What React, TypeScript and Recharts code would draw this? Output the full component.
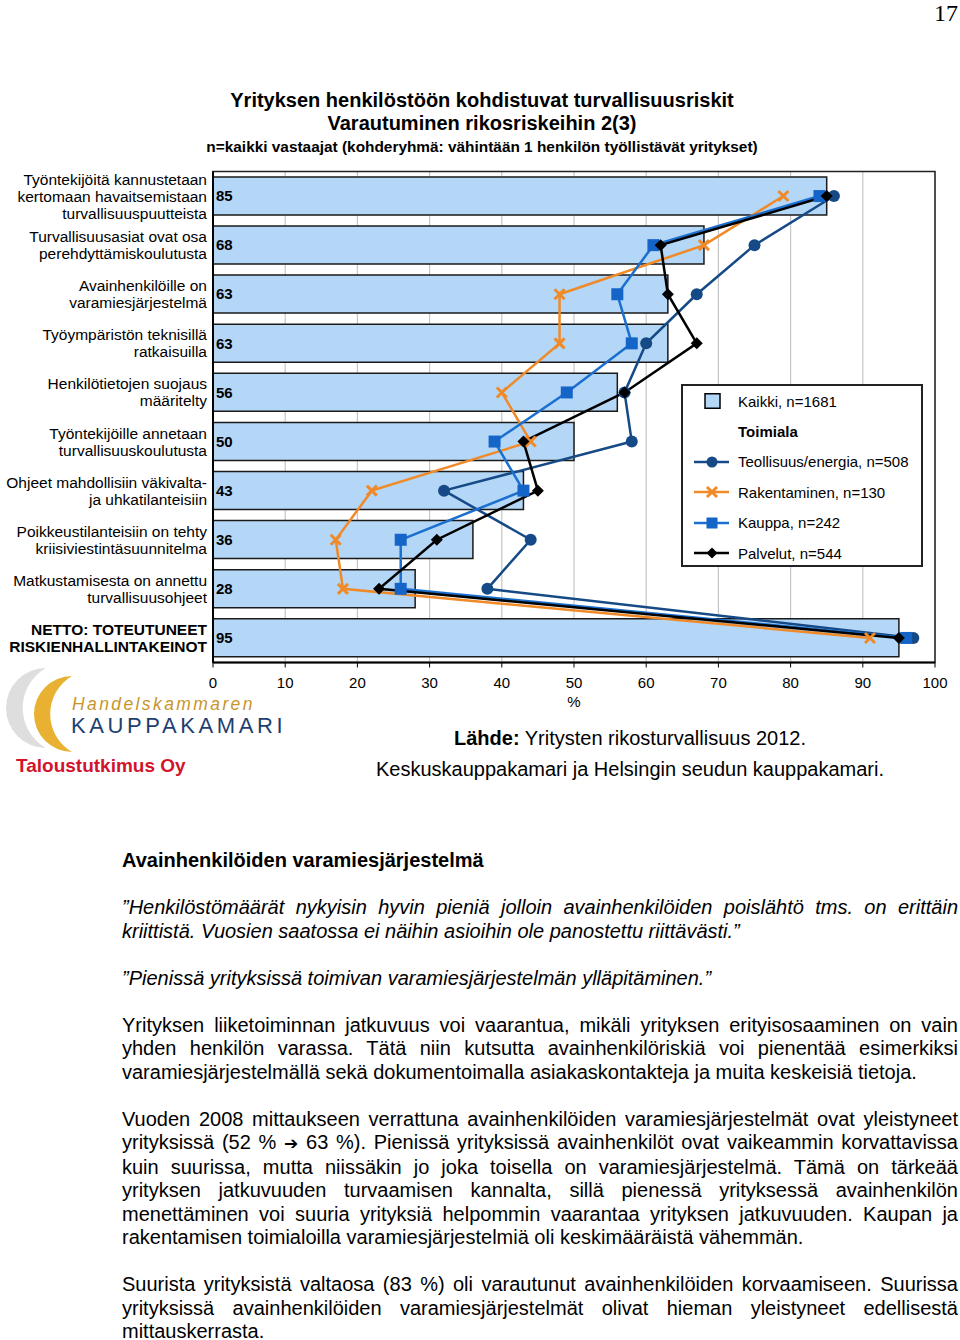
import React from "react";
import {
  ComposedChart,
  Bar,
  Line,
  XAxis,
  YAxis,
  CartesianGrid,
  LabelList,
  ReferenceArea,
} from "recharts";

const categories = [
  "Työntekijöitä kannustetaan\nkertomaan havaitsemistaan\nturvallisuuspuutteista",
  "Turvallisuusasiat ovat osa\nperehdyttämiskoulutusta",
  "Avainhenkilöille on\nvaramiesjärjestelmä",
  "Työympäristön teknisillä\nratkaisuilla",
  "Henkilötietojen suojaus\nmääritelty",
  "Työntekijöille annetaan\nturvallisuuskoulutusta",
  "Ohjeet mahdollisiin väkivalta-\nja uhkatilanteisiin",
  "Poikkeustilanteisiin on tehty\nkriisiviestintäsuunnitelma",
  "Matkustamisesta on annettu\nturvallisuusohjeet",
  "NETTO: TOTEUTUNEET\nRISKIENHALLINTAKEINOT",
];

const kaikki = [85, 68, 63, 63, 56, 50, 43, 36, 28, 95];
const teollisuus = [86, 75, 67, 60, 57, 58, 32, 44, 38, 97];
const rakentaminen = [79, 68, 48, 48, 40, 44, 22, 17, 18, 91];
const kauppa = [84, 61, 56, 58, 49, 39, 43, 26, 26, 96];
const palvelut = [85, 62, 63, 67, 57, 43, 45, 31, 23, 95];

const xTicks = [0, 10, 20, 30, 40, 50, 60, 70, 80, 90, 100];

const data = categories.map((name, i) => ({
  name,
  kaikki: kaikki[i],
  teollisuus: teollisuus[i],
  rakentaminen: rakentaminen[i],
  kauppa: kauppa[i],
  palvelut: palvelut[i],
}));

const BAR = "#b4d7f7";
const NAVY = "#164a86";
const ORANGE = "#f08a28";
const BLUE = "#1b6fcf";
const FONT = "'Liberation Sans', Arial, sans-serif";

const circleDot = (p: any) =>
  p.cx == null ? <g key={p.key} /> : <circle key={p.key} cx={p.cx} cy={p.cy} r={6} fill={NAVY} />;

const crossDot = (p: any) =>
  p.cx == null ? (
    <g key={p.key} />
  ) : (
    <g key={p.key} stroke={ORANGE} strokeWidth={3}>
      <line x1={p.cx - 5} y1={p.cy - 5} x2={p.cx + 5} y2={p.cy + 5} />
      <line x1={p.cx - 5} y1={p.cy + 5} x2={p.cx + 5} y2={p.cy - 5} />
    </g>
  );

const squareDot = (p: any) =>
  p.cx == null ? <g key={p.key} /> : <rect key={p.key} x={p.cx - 6} y={p.cy - 6} width={12} height={12} fill="#1565c8" />;

const diamondDot = (p: any) =>
  p.cx == null ? (
    <g key={p.key} />
  ) : (
    <path key={p.key} d={`M${p.cx},${p.cy - 6}L${p.cx + 6},${p.cy}L${p.cx},${p.cy + 6}L${p.cx - 6},${p.cy}Z`} fill="#000" />
  );

const CategoryTick = (props: any) => {
  const { y, payload, index } = props;
  const lines = String(payload.value).split("\n");
  const last = index === categories.length - 1;
  return (
    <text
      x={207}
      y={y}
      textAnchor="end"
      fontSize={15.5}
      fontWeight={last ? "bold" : "normal"}
      fill="#000"
      fontFamily={FONT}
    >
      {lines.map((l, i) => (
        <tspan key={i} x={207} y={y + (i - (lines.length - 1) / 2) * 17} dominantBaseline="central">
          {l}
        </tspan>
      ))}
    </text>
  );
};

const legendRows = [
  { label: "Kaikki, n=1681", kind: "bar" },
  { label: "Toimiala", kind: "head" },
  { label: "Teollisuus/energia, n=508", kind: "circle", color: NAVY },
  { label: "Rakentaminen, n=130", kind: "cross", color: ORANGE },
  { label: "Kauppa, n=242", kind: "square", color: BLUE },
  { label: "Palvelut, n=544", kind: "diamond", color: "#000" },
];

function LegendIcon({ kind, color }: { kind: string; color?: string }) {
  return (
    <svg width={40} height={16} style={{ display: "block" }}>
      {kind === "bar" && <rect x={13} y={0.75} width={15} height={14.5} fill={BAR} stroke="#000" strokeWidth={1.5} />}
      {kind !== "bar" && kind !== "head" && <line x1={2} y1={8} x2={37} y2={8} stroke={color} strokeWidth={2.5} />}
      {kind === "circle" && <circle cx={20} cy={8} r={5.5} fill={color} />}
      {kind === "cross" && (
        <g stroke={color} strokeWidth={3}>
          <line x1={15} y1={3} x2={25} y2={13} />
          <line x1={15} y1={13} x2={25} y2={3} />
        </g>
      )}
      {kind === "square" && <rect x={14.5} y={2.5} width={11} height={11} fill="#1565c8" />}
      {kind === "diamond" && <path d="M20,2.5L25.5,8L20,13.5L14.5,8Z" fill="#000" />}
    </svg>
  );
}

const ARROW = "➔";

const paragraphs: { lines: string[]; italic?: boolean }[] = [
  {
    italic: true,
    lines: [
      "”Henkilöstömäärät nykyisin hyvin pieniä jolloin avainhenkilöiden poislähtö tms. on erittäin",
      "kriittistä. Vuosien saatossa ei näihin asioihin ole panostettu riittävästi.”",
    ],
  },
  { italic: true, lines: ["”Pienissä yrityksissä toimivan varamiesjärjestelmän ylläpitäminen.”"] },
  {
    lines: [
      "Yrityksen liiketoiminnan jatkuvuus voi vaarantua, mikäli yrityksen erityisosaaminen on vain",
      "yhden henkilön varassa. Tätä niin kutsutta avainhenkilöriskiä voi pienentää esimerkiksi",
      "varamiesjärjestelmällä sekä dokumentoimalla asiakaskontakteja ja muita keskeisiä tietoja.",
    ],
  },
  {
    lines: [
      "Vuoden 2008 mittaukseen verrattuna avainhenkilöiden varamiesjärjestelmät ovat yleistyneet",
      "yrityksissä (52 % " + ARROW + " 63 %). Pienissä yrityksissä avainhenkilöt ovat vaikeammin korvattavissa",
      "kuin suurissa, mutta niissäkin jo joka toisella on varamiesjärjestelmä. Tämä on tärkeää",
      "yrityksen jatkuvuuden turvaamisen kannalta, sillä pienessä yrityksessä avainhenkilön",
      "menettäminen voi suuria yrityksiä helpommin vaarantaa yrityksen jatkuvuuden. Kaupan ja",
      "rakentamisen toimialoilla varamiesjärjestelmiä oli keskimääräistä vähemmän.",
    ],
  },
  {
    lines: [
      "Suurista yrityksistä valtaosa (83 %) oli varautunut avainhenkilöiden korvaamiseen. Suurissa",
      "yrityksissä avainhenkilöiden varamiesjärjestelmät olivat hieman yleistyneet edellisestä",
      "mittauskerrasta.",
    ],
  },
];

function renderLine(l: string) {
  const parts = l.split(ARROW);
  if (parts.length === 1) return l;
  return (
    <>
      {parts[0]}
      <span style={{ fontFamily: "'DejaVu Sans', sans-serif", fontSize: 17 }}>{ARROW}</span>
      {parts[1]}
    </>
  );
}

export default function App() {
  return (
    <div
      style={{
        position: "absolute",
        left: 0,
        top: 0,
        width: 960,
        height: 1340,
        background: "#fff",
        fontFamily: FONT,
        color: "#000",
        overflow: "hidden",
      }}
    >
      <div style={{ position: "absolute", right: 2, top: 0, fontFamily: "'Liberation Serif', serif", fontSize: 24, lineHeight: "26px" }}>
        17
      </div>

      <div style={{ position: "absolute", left: 0, width: 964, top: 89, textAlign: "center", fontWeight: "bold" }}>
        <div style={{ fontSize: 20, lineHeight: "23px" }}>Yrityksen henkilöstöön kohdistuvat turvallisuusriskit</div>
        <div style={{ fontSize: 20, lineHeight: "23px" }}>Varautuminen rikosriskeihin 2(3)</div>
        <div style={{ fontSize: 15.4, lineHeight: "24px" }}>
          n=kaikki vastaajat (kohderyhmä: vähintään 1 henkilön työllistävät yritykset)
        </div>
      </div>

      <div style={{ position: "absolute", left: 0, top: 0 }}>
        <ComposedChart
          layout="vertical"
          width={960}
          height={720}
          data={data}
          margin={{ top: 171.5, right: 25, left: 0, bottom: 7.5 }}
          barCategoryGap="11%"
        >
          <CartesianGrid horizontal={false} stroke="#c6c6c6" strokeWidth={1.2} />
          <XAxis
            type="number"
            domain={[0, 100]}
            ticks={xTicks}
            interval={0}
            height={50}
            axisLine={{ stroke: "#000", strokeWidth: 2 }}
            tickLine={{ stroke: "#000" }}
            tickSize={5}
            tickMargin={10}
            tick={{ fontSize: 15, fill: "#000", fontFamily: FONT }}
            label={{ value: "%", position: "insideBottom", offset: 6, fontSize: 15, fill: "#000", fontFamily: FONT }}
          />
          <YAxis
            type="category"
            dataKey="name"
            width={213}
            axisLine={{ stroke: "#000", strokeWidth: 2 }}
            tickLine={false}
            interval={0}
            tick={<CategoryTick />}
          />
          <ReferenceArea x1={0} x2={100} fill="none" fillOpacity={0} stroke="#222" strokeWidth={1.5} />
          <Bar dataKey="kaikki" fill={BAR} stroke="#1a1a1a" strokeWidth={1.5} isAnimationActive={false}>
            <LabelList
              dataKey="kaikki"
              position="insideLeft"
              offset={3}
              fontSize={15}
              fontWeight="bold"
              fill="#000"
              fontFamily={FONT}
            />
          </Bar>
          <Line dataKey="teollisuus" stroke={NAVY} strokeWidth={2.5} dot={circleDot} isAnimationActive={false} />
          <Line dataKey="rakentaminen" stroke={ORANGE} strokeWidth={2.5} dot={crossDot} isAnimationActive={false} />
          <Line dataKey="kauppa" stroke={BLUE} strokeWidth={2.5} dot={squareDot} isAnimationActive={false} />
          <Line dataKey="palvelut" stroke="#000" strokeWidth={2.5} dot={diamondDot} isAnimationActive={false} />
        </ComposedChart>
      </div>

      <div
        style={{
          position: "absolute",
          left: 681,
          top: 384,
          width: 238,
          height: 179,
          border: "2px solid #222",
          background: "#fff",
          fontSize: 15,
        }}
      >
        {legendRows.map((r, i) => (
          <div key={i} style={{ position: "absolute", left: 0, top: 6 + i * 30.4, height: 18, display: "flex", alignItems: "center" }}>
            <div style={{ width: 46, paddingLeft: 9 }}>
              <LegendIcon kind={r.kind} color={r.color} />
            </div>
            <span style={{ fontWeight: r.kind === "head" ? "bold" : "normal" }}>{r.label}</span>
          </div>
        ))}
      </div>

      <svg style={{ position: "absolute", left: 0, top: 666 }} width={300} height={95}>
        <path d="M 46 2 A 40 40 0 0 0 46 82 A 46 46 0 0 1 46 2 Z" fill="#dedede" />
        <path d="M 72 10 A 38 38 0 0 0 72 86 A 44 44 0 0 1 72 10 Z" fill="#e9b132" />
        <text x={72} y={44} fontStyle="italic" fontSize={17.5} letterSpacing={2.4} fill="#c8952a" fontFamily={FONT}>
          Handelskammaren
        </text>
        <text x={71} y={67} fontSize={22} letterSpacing={3.6} fill="#1d3f70" fontFamily={FONT}>
          KAUPPAKAMARI
        </text>
      </svg>
      <div style={{ position: "absolute", left: 16, top: 755, fontSize: 19, fontWeight: "bold", color: "#d2132b" }}>
        Taloustutkimus Oy
      </div>

      <div style={{ position: "absolute", left: 300, width: 660, top: 723, textAlign: "center", fontSize: 20, lineHeight: "31px" }}>
        <div>
          <b>Lähde:</b> Yritysten rikosturvallisuus 2012.
        </div>
        <div>Keskuskauppakamari ja Helsingin seudun kauppakamari.</div>
      </div>

      <div style={{ position: "absolute", left: 122, top: 849, width: 836, fontSize: 20, lineHeight: "23.5px" }}>
        <div style={{ fontWeight: "bold", marginBottom: 23.5 }}>Avainhenkilöiden varamiesjärjestelmä</div>
        {paragraphs.map((p, pi) => (
          <div key={pi} style={{ marginBottom: 23.5, fontStyle: p.italic ? "italic" : "normal" }}>
            {p.lines.map((l, li) => (
              <div
                key={li}
                style={{
                  textAlign: "justify",
                  textAlignLast: li === p.lines.length - 1 ? "left" : "justify",
                  whiteSpace: "nowrap",
                }}
              >
                {renderLine(l)}
              </div>
            ))}
          </div>
        ))}
      </div>
    </div>
  );
}
